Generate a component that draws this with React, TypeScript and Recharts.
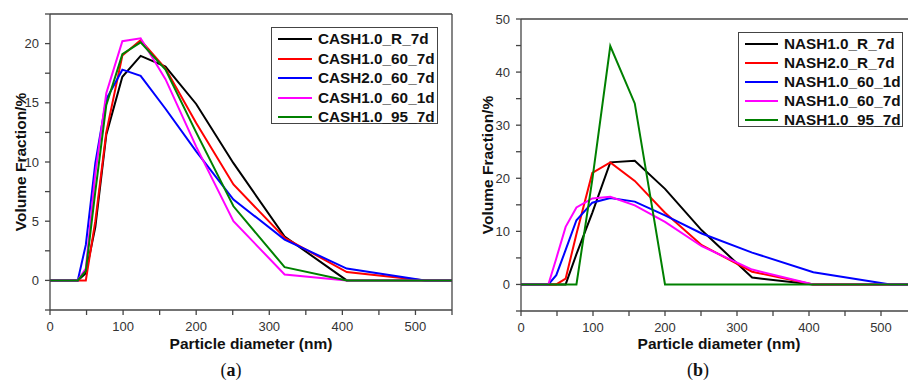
import React from 'react';
import { LineChart, Line, XAxis, YAxis, Label } from 'recharts';

// Particle diameter bins (nm), shared by both panels
const diameters = [0, 38, 49, 62, 77, 99, 124, 158, 200, 251, 321, 406, 513, 550];

// Panel (a): CASH samples
const cashNames = ['CASH1.0_R_7d', 'CASH1.0_60_7d', 'CASH2.0_60_7d', 'CASH1.0_60_1d', 'CASH1.0_95_7d'];
const cash10R7d = [0, 0, 0.6, 4.5, 12.3, 17.2, 18.96, 18.06, 14.9, 9.9, 3.7, 0, 0, 0];
const cash1060_7d = [0, 0, 0, 5.0, 12.5, 19.0, 20.3, 17.9, 13.3, 8.1, 3.6, 0.7, 0, 0];
const cash2060_7d = [0, 0, 3.0, 9.9, 15.3, 17.8, 17.27, 14.5, 10.9, 6.83, 3.45, 1.0, 0, 0];
const cash1060_1d = [0, 0, 1.0, 9.0, 15.8, 20.2, 20.45, 17.0, 11.3, 5.0, 0.5, 0, 0, 0];
const cash1095_7d = [0, 0, 0.8, 7.5, 14.8, 19.1, 20.1, 17.8, 12.5, 6.26, 1.12, 0, 0, 0];

// Panel (b): NASH samples
const nashNames = ['NASH1.0_R_7d', 'NASH2.0_R_7d', 'NASH1.0_60_1d', 'NASH1.0_60_7d', 'NASH1.0_95_7d'];
const nash10R7d = [0, 0, 0, 0, 5.7, 13.5, 23.0, 23.3, 18.0, 10.2, 1.3, 0, 0, 0];
const nash20R7d = [0, 0, 0, 1.1, 9.5, 21.0, 23.0, 19.5, 13.5, 7.4, 2.4, 0, 0, 0];
const nash1060_1d = [0, 0, 1.75, 6.5, 12.1, 15.4, 16.3, 15.6, 13.0, 9.6, 6.0, 2.3, 0, 0];
const nash1060_7d = [0, 0, 4.9, 10.85, 14.5, 16.2, 16.5, 14.9, 11.8, 7.2, 2.8, 0, 0, 0];
const nash1095_7d = [0, 0, 0, 0, 0, 19.7, 44.9, 34.1, 0, 0, 0, 0, 0, 0];

const seriesColors = ['#000000', '#ff0000', '#0000ff', '#ff00ff', '#008000'];

const xTicks = [0, 50, 100, 150, 200, 250, 300, 350, 400, 450, 500, 550];
const yTicksA = [-2.5, 0, 2.5, 5, 7.5, 10, 12.5, 15, 17.5, 20, 22.5];
const yTicksB = [-5, 0, 5, 10, 15, 20, 25, 30, 35, 40, 45, 50];

const buildRows = (series: number[][]) =>
  diameters.map((d, i) => {
    const row: Record<string, number> = { d };
    series.forEach((s, k) => {
      row['s' + k] = s[i];
    });
    return row;
  });

const rowsA = buildRows([cash10R7d, cash1060_7d, cash2060_7d, cash1060_1d, cash1095_7d]);
const rowsB = buildRows([nash10R7d, nash20R7d, nash1060_1d, nash1060_7d, nash1095_7d]);

const SANS = '"Liberation Sans", Arial, sans-serif';
const AXIS = '#444';
const tickStyle = { fill: '#333', fontSize: 13, fontFamily: SANS };
const labelStyle = { fill: '#111', fontSize: 15.5, fontWeight: 700, fontFamily: SANS, textAnchor: 'middle' as const };

type PanelProps = {
  rows: Record<string, number>[];
  names: string[];
  width: number;
  top: number;
  yAxisWidth: number;
  xAxisHeight: number;
  yDomain: [number, number];
  yTicks: number[];
  yLabelStep: number;
  yLabelOffset: number;
};

function Panel(p: PanelProps) {
  return (
    <LineChart
      width={p.width}
      height={383}
      data={p.rows}
      margin={{ top: p.top - 2, right: 6, bottom: 0, left: 0 }}
    >
      <XAxis
        dataKey="d"
        type="number"
        domain={[0, 550]}
        ticks={xTicks}
        interval={0}
        allowDataOverflow
        height={p.xAxisHeight}
        stroke={AXIS}
        strokeWidth={1.3}
        tickSize={5}
        tickMargin={7}
        tick={tickStyle}
        tickFormatter={(v: number) => (v % 100 === 0 ? String(v) : '')}
      >
        <Label value="Particle diameter (nm)" position="insideBottom" offset={34} style={labelStyle} />
      </XAxis>
      <XAxis
        xAxisId="top"
        orientation="top"
        type="number"
        dataKey="d"
        domain={[0, 550]}
        ticks={xTicks}
        interval={0}
        allowDataOverflow
        height={2}
        stroke={AXIS}
        strokeWidth={1.3}
        tickSize={2}
        tick={false}
      />
      <YAxis
        type="number"
        domain={p.yDomain}
        ticks={p.yTicks}
        interval={0}
        allowDataOverflow
        width={p.yAxisWidth}
        stroke={AXIS}
        strokeWidth={1.3}
        tickSize={5}
        tickMargin={6}
        tick={tickStyle}
        tickFormatter={(v: number) => (v >= 0 && v % p.yLabelStep === 0 ? String(v) : '')}
      >
        <Label
          value="Volume Fraction/%"
          angle={-90}
          position="insideLeft"
          offset={p.yLabelOffset}
          style={labelStyle}
        />
      </YAxis>
      <YAxis
        yAxisId="right"
        orientation="right"
        type="number"
        domain={p.yDomain}
        ticks={p.yTicks}
        interval={0}
        allowDataOverflow
        width={2}
        stroke={AXIS}
        strokeWidth={1.3}
        tickSize={2}
        tick={false}
      />
      {p.names.map((n, k) => (
        <Line
          key={n}
          type="linear"
          dataKey={'s' + k}
          name={n}
          stroke={seriesColors[k]}
          strokeWidth={2}
          dot={false}
          activeDot={false}
          isAnimationActive={false}
        />
      ))}
    </LineChart>
  );
}

function LegendBox(props: { names: string[]; left: number; top: number; width: number; height: number; rowH: number; first: number; textLeft: number; lineW: number }) {
  return (
    <div
      style={{
        position: 'absolute',
        left: props.left,
        top: props.top,
        width: props.width,
        height: props.height,
        boxSizing: 'border-box',
        border: '1.3px solid #444',
        background: '#fff',
      }}
    >
      {props.names.map((n, k) => (
        <div
          key={n}
          style={{
            position: 'absolute',
            left: 0,
            top: props.first + k * props.rowH - 10,
            height: 20,
            width: '100%',
          }}
        >
          <div
            style={{
              position: 'absolute',
              left: 6,
              top: 9,
              width: props.lineW,
              height: 2,
              background: seriesColors[k],
            }}
          />
          <div
            style={{
              position: 'absolute',
              left: props.textLeft,
              top: 0,
              lineHeight: '20px',
              fontFamily: SANS,
              fontWeight: 700,
              fontSize: 15.3,
              color: '#111',
              whiteSpace: 'nowrap',
            }}
          >
            {n}
          </div>
        </div>
      ))}
    </div>
  );
}

function Caption(props: { letter: string; cx: number; cy: number }) {
  return (
    <div
      style={{
        position: 'absolute',
        left: props.cx - 30,
        top: props.cy - 11,
        width: 60,
        textAlign: 'center',
        lineHeight: '22px',
        fontFamily: '"Liberation Serif", "DejaVu Serif", serif',
        fontSize: 18,
        color: '#111',
      }}
    >
      (<b>{props.letter}</b>)
    </div>
  );
}

export default function App() {
  return (
    <div
      style={{
        position: 'absolute',
        left: 0,
        top: 0,
        width: 908,
        height: 383,
        overflow: 'hidden',
        background: '#fff',
      }}
    >
      <div style={{ position: 'absolute', left: 0, top: 0 }}>
        <Panel
          rows={rowsA}
          names={cashNames}
          width={460}
          top={14}
          yAxisWidth={50}
          xAxisHeight={73}
          yDomain={[-2.5, 22.5]}
          yTicks={yTicksA}
          yLabelStep={5}
          yLabelOffset={20}
        />
      </div>
      <div style={{ position: 'absolute', left: 460, top: 0 }}>
        <Panel
          rows={rowsB}
          names={nashNames}
          width={465}
          top={19}
          yAxisWidth={61}
          xAxisHeight={72}
          yDomain={[-5, 50]}
          yTicks={yTicksB}
          yLabelStep={10}
          yLabelOffset={27}
        />
      </div>
      <LegendBox names={cashNames} left={271} top={27} width={167} height={97} rowH={19.5} first={11} textLeft={46} lineW={34} />
      <LegendBox names={nashNames} left={738} top={32} width={165} height={95} rowH={19} first={11} textLeft={45} lineW={33} />
      <Caption letter="a" cx={231} cy={370} />
      <Caption letter="b" cx={698} cy={370} />
    </div>
  );
}
